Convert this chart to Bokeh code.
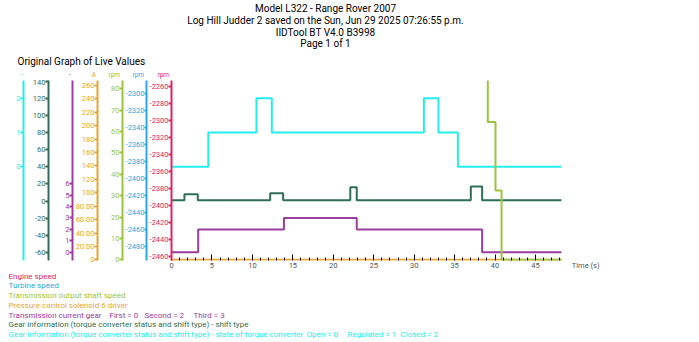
from bokeh.plotting import figure
from bokeh.models import Range1d, LinearAxis, FixedTicker, Label
from bokeh.layouts import column
from bokeh.embed import file_html
from bokeh.resources import INLINE

# ---------------- data ----------------
title_lines = [
    "Model L322 - Range Rover 2007",
    "Log Hill Judder 2 saved on the Sun, Jun 29 2025 07:26:55 p.m.",
    "IIDTool BT V4.0 B3998",
    "Page 1 of 1",
]
subtitle = "Original Graph of Live Values"

gear_t = [0, 3.3, 13.9, 22.9, 38.4, 48.2]
gear_v = [0, 2, 3, 2, 0, 0]

tcc_t = [0, 4.55, 10.5, 12.4, 31.2, 33.0, 35.4, 48.2]
tcc_v = [0, 1, 2, 1, 2, 1, 0, 0]

shift_t = [0, 1.6, 3.25, 12.2, 13.8, 22.1, 22.9, 37.0, 38.4, 48.2]
shift_v = [1, 8, 1, 9, 1, 16, 1, 17, 1, 1]

pcs_t = [0, 48.2]
pcs_v = [0, 0]

oss_t = [0, 39.1, 40.05, 40.8, 48.2]
oss_v = [100, 64.5, 32.5, 0, 0]

x_major = [0, 5, 10, 15, 20, 25, 30, 35, 40, 45]
x_minor = [s for s in range(1, 49) if s % 5 != 0]
x_label_ticks = x_major + [51.2]
x_labels = [str(v) for v in x_major] + ["Time (s)"]

engine_ticks = list(range(-2460, -2259, 20))
turbine_ticks = list(range(-2480, -2299, 20))
oss_ticks = list(range(0, 81, 10))
pcs_ticks = list(range(0, 261, 20))
pcs_labels = ["0", "20.00", "40.00", "60.00", "80.00"] + [str(v) for v in range(100, 261, 20)]
gear_ticks = list(range(0, 7))
shift_ticks = list(range(-60, 141, 20))
tcc_ticks = [0, 1, 2]

legend_lines = [
    ["Engine speed"],
    ["Turbine speed"],
    ["Transmission output shaft speed"],
    ["Pressure control solenoid 6 driver"],
    ["Transmission current gear", "First = 0", "Second = 2", "Third = 3"],
    ["Gear information (torque converter status and shift type) - shift type"],
    ["Gear information (torque converter status and shift type) - state of torque converter",
     "Open = 0", "Regulated = 1", "Closed = 2"],
]
legend_x = [[8], [8], [8], [8], [8, 109, 144, 193], [8], [8, 306, 347, 400]]

C_ENGINE = "#e0245e"
C_TURB = "#29a9df"
C_OSS = "#9bc53d"
C_PCS = "#e9a52a"
C_GEAR = "#9c3da0"
C_SHIFT = "#2f6f55"
C_TCC = "#22eeee"
legend_colors = [C_ENGINE, C_TURB, C_OSS, C_PCS, C_GEAR, C_SHIFT, C_TCC]

FONT = "Roboto"
W = 699
TOP_H, MAIN_H, BOT_H = 79, 193, 70


def text_figure(h, y0):
    f = figure(width=W, height=h, output_backend="svg", toolbar_location=None,
               x_range=Range1d(0, W), y_range=Range1d(y0 + h, y0),
               x_axis_type=None, y_axis_type=None, min_border=0)
    f.frame_align = False
    f.outline_line_color = None
    f.background_fill_color = "white"
    f.border_fill_color = "white"
    return f


def add_text(f, x, y, text, color="black", size="8px", align="left", baseline="middle"):
    f.add_layout(Label(x=x, y=y, text=text, text_color=color, text_font=FONT,
                       text_font_size=size, text_align=align, text_baseline=baseline))


# ---------------- top: titles and unit captions ----------------
top = text_figure(TOP_H, 0)
for i, line in enumerate(title_lines):
    add_text(top, 325, 8 + 11.8 * i, line, "black", "10px", "center")
add_text(top, 17, 61, subtitle, "black", "10px", "left")
unit_specs = [(168.5, 78.6, "rpm", C_ENGINE, "bottom"), (143.5, 78.6, "rpm", C_TURB, "bottom"),
              (119.5, 78.6, "rpm", C_OSS, "bottom"), (95.5, 78.6, "A", C_PCS, "bottom"),
              (70.5, 74.0, "-", C_GEAR, "middle"), (22, 74.0, "-", C_TCC, "middle")]
for xc, yc, txt, col, bl in unit_specs:
    add_text(top, xc, yc, txt, col, "6.5px", "right", bl)

# ---------------- main chart ----------------
p = figure(width=W, height=MAIN_H, output_backend="svg", toolbar_location=None,
           x_range=Range1d(0, 65.27), y_range=Range1d(-2465.1, -2253.3),
           y_axis_type=None, x_axis_type=None,
           min_border_left=171, min_border_right=0,
           min_border_top=1, min_border_bottom=12)
p.frame_align = False
p.outline_line_color = None
p.background_fill_color = "white"
p.border_fill_color = "white"

p.extra_y_ranges = {
    "turbine": Range1d(-2496.4, -2285.1),
    "oss": Range1d(-0.3, 83.9),
    "pcs": Range1d(-1.0, 267.5),
    "gear": Range1d(-0.73, 15.06),
    "shift": Range1d(-69.7, 141.2),
    "tcc": Range1d(-2.74, 2.52),
}


def make_axis(rname, ticks, labels, color, tick_out, pad_standoff):
    ax = LinearAxis(ticker=FixedTicker(ticks=ticks),
                    major_label_overrides={t: l for t, l in zip(ticks, labels)})
    if rname is not None:
        ax.y_range_name = rname
    ax.axis_line_color = color
    ax.axis_line_width = 2
    ax.major_tick_line_color = color
    ax.major_tick_line_width = 2
    ax.major_tick_out = tick_out
    ax.major_tick_in = 0
    ax.minor_tick_out = 0
    ax.minor_tick_in = 0
    ax.minor_tick_line_color = None
    ax.major_label_text_color = color
    ax.major_label_text_font = FONT
    ax.major_label_text_font_size = "7.5px"
    ax.major_label_standoff = 0
    if pad_standoff is not None:
        ax.axis_label = " "
        ax.axis_label_text_font_size = "1px"
        ax.axis_label_standoff = pad_standoff
    return ax


axes_spec = [
    (None, engine_ticks, [str(t) for t in engine_ticks], C_ENGINE, 3, None),
    ("turbine", turbine_ticks, [str(t) for t in turbine_ticks], C_TURB, 2, None),
    ("oss", oss_ticks, [str(t) for t in oss_ticks], C_OSS, 3, 6),
    ("pcs", pcs_ticks, pcs_labels, C_PCS, 3, None),
    ("gear", gear_ticks, [str(t) for t in gear_ticks], C_GEAR, 3, 10),
    ("shift", shift_ticks, [str(t) for t in shift_ticks], C_SHIFT, 3, 2),
    ("tcc", tcc_ticks, [str(t) for t in tcc_ticks], C_TCC, 3, None),
]
for spec in axes_spec:
    p.add_layout(make_axis(*spec), "left")

# x axis: tick marks (inward) ...
xa = LinearAxis(ticker=FixedTicker(ticks=x_major, minor_ticks=x_minor),
                major_label_overrides={t: "" for t in x_major})
xa.axis_line_color = None
xa.major_tick_in = 6
xa.major_tick_out = 0
xa.minor_tick_in = 3
xa.minor_tick_out = 0
xa.major_tick_line_color = "black"
xa.minor_tick_line_color = "black"
xa.major_tick_line_width = 1
xa.minor_tick_line_width = 1
xa.major_label_text_font_size = "1px"
xa.major_label_standoff = 0
p.add_layout(xa, "below")

# ... and its labels, including the axis caption at the right
xb = LinearAxis(ticker=FixedTicker(ticks=x_label_ticks, minor_ticks=[]),
                major_label_overrides={t: l for t, l in zip(x_label_ticks, x_labels)})
xb.axis_line_color = None
xb.major_tick_line_color = None
xb.minor_tick_line_color = None
xb.major_tick_in = 0
xb.major_tick_out = 0
xb.minor_tick_in = 0
xb.minor_tick_out = 0
xb.major_label_text_color = "#555555"
xb.major_label_text_font = FONT
xb.major_label_text_font_size = "7.5px"
xb.major_label_standoff = 0
p.add_layout(xb, "below")

# series
p.step(tcc_t, tcc_v, mode="after", y_range_name="tcc", line_color=C_TCC, line_width=2)
p.step(shift_t, shift_v, mode="after", y_range_name="shift", line_color=C_SHIFT, line_width=2)
p.step(gear_t, gear_v, mode="after", y_range_name="gear", line_color=C_GEAR, line_width=2)
p.step(pcs_t, pcs_v, mode="after", y_range_name="pcs", line_color=C_PCS, line_width=2)
p.step(oss_t, oss_v, mode="after", y_range_name="oss", line_color=C_OSS, line_width=2)

# ---------------- bottom: legend ----------------
bot = text_figure(BOT_H, TOP_H + MAIN_H)
for i, (parts, xs) in enumerate(zip(legend_lines, legend_x)):
    for txt, xc in zip(parts, xs):
        add_text(bot, xc, 275.7 + 9.7 * i, txt, legend_colors[i], "8px", "left")

layout = column(top, p, bot, spacing=0)
open("out.html", "w").write(file_html(layout, INLINE))
